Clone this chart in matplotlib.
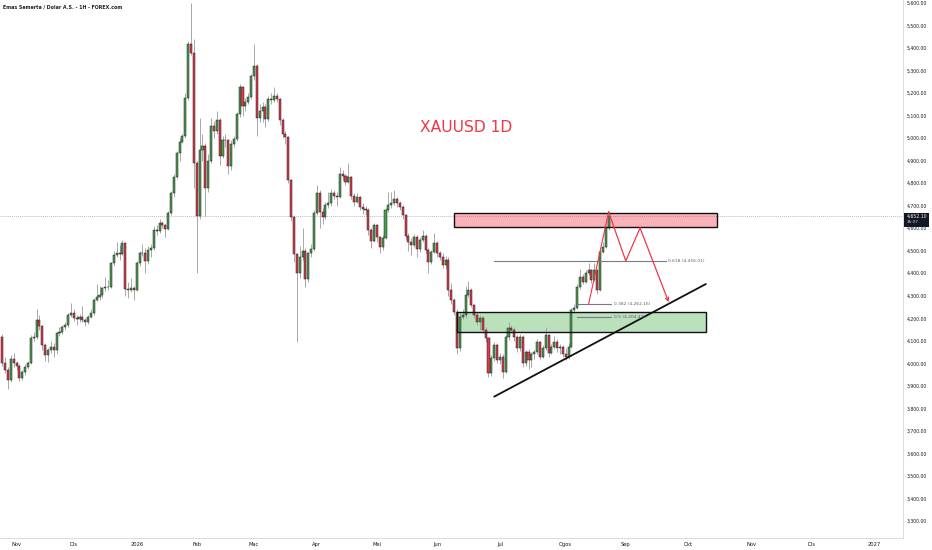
import numpy as np
import pandas as pd
import matplotlib
matplotlib.use("Agg")
import matplotlib.pyplot as plt
from matplotlib.patches import Rectangle

# ---------------- data ----------------
TITLE = "XAUUSD 1D"
SYMBOL_LABEL = "Emas Semerta / Dolar A.S. - 1H - FOREX.com"
LAST_DATE = "2026-08-24"
LAST_PRICE = 4652.10
COUNTDOWN = "36:07"
FIRST_OPEN = 4118

closes = [
    4000, 3970, 3926, 4018, 4000, 3990, 3935, 3960, 3985, 4000,
    4111, 4118, 4192, 4166, 4081, 4037, 4059, 4074, 4059, 4133,
    4137, 4163, 4170, 4215, 4225, 4200, 4198, 4205, 4192, 4185,
    4205, 4222, 4281, 4296, 4303, 4333, 4337, 4340, 4444, 4481,
    4488, 4485, 4533, 4329, 4326, 4333, 4326, 4444, 4488, 4490,
    4455, 4503,
    4511, 4592, 4588, 4622, 4615, 4595, 4666, 4758, 4829, 4935,
    4984, 5009, 5177, 5418, 5380, 4891, 4654, 4947, 4965, 4777, 4900,
    5054, 5030, 5081, 4921, 4992, 4990, 4876, 4974, 4995, 5106,
    5225, 5142, 5160, 5184, 5276, 5320, 5088, 5120, 5140, 5083, 5172,
    5170, 5187, 5175, 5081, 5018, 5006, 4814, 4651, 4485, 4403,
    4471, 4500, 4373, 4488, 4506, 4669, 4755, 4673, 4651, 4703,
    4713, 4758, 4745, 4740, 4841, 4832, 4805, 4826, 4743, 4718,
    4737, 4696, 4684, 4681, 4592, 4545, 4614, 4559, 4518, 4555,
    4681, 4703, 4713, 4728, 4710, 4695, 4659, 4565, 4540,
    4525, 4562, 4506, 4547, 4565, 4503, 4451, 4496, 4536,
    4488, 4474, 4437, 4460, 4326, 4281, 4229, 4066, 4207, 4215,
    4303, 4326, 4259, 4215, 4185, 4200, 4148, 4111, 3956, 4022,
    4081, 4015, 4030, 3963, 4115, 4155, 4148, 4118, 4066, 4118,
    4000, 4052, 4015, 4040, 4052, 4096, 4030, 4067, 4126, 4044,
    4074, 4096, 4067, 4074, 4040, 4030, 4074, 4237, 4244, 4340,
    4385, 4363, 4400, 4414, 4370, 4414, 4326, 4496, 4518, 4599,
    4652.10,
]
highs = [
    4130, 4030, 3985, 4035, 4045, 4012, 3995, 3970, 3995, 4010,
    4125, 4140, 4240, 4215, 4170, 4090, 4070, 4100, 4090, 4140,
    4160, 4172, 4185, 4225, 4268, 4240, 4215, 4220, 4255, 4200,
    4215, 4240, 4290, 4350, 4345, 4340, 4385, 4370, 4450, 4500,
    4540, 4525, 4548, 4540, 4360, 4380, 4345, 4455, 4500, 4530,
    4510, 4520,
    4530, 4610, 4612, 4640, 4632, 4620, 4675, 4765, 4840, 4945,
    5000, 5020, 5200, 5430, 5598, 5440, 4900, 5090, 5020, 4980, 4930,
    5090, 5075, 5120, 5090, 5010, 5020, 4995, 4990, 5010, 5115,
    5240, 5230, 5180, 5200, 5285, 5420, 5330, 5150, 5160, 5150, 5185,
    5200, 5225, 5200, 5180, 5090, 5030, 5010, 4820, 4660, 4490,
    4520, 4600, 4510, 4495, 4530, 4680, 4790, 4770, 4690, 4715,
    4760, 4775, 4770, 4760, 4870, 4860, 4840, 4890, 4830, 4755,
    4755, 4745, 4710, 4700, 4690, 4600, 4625, 4620, 4565, 4570,
    4690, 4760, 4760, 4770, 4740, 4720, 4705, 4665, 4580,
    4555, 4575, 4570, 4560, 4590, 4575, 4510, 4505, 4580,
    4545, 4500, 4490, 4475, 4470, 4355, 4290, 4240, 4225, 4240,
    4345, 4365, 4335, 4265, 4230, 4215, 4210, 4160, 4115, 4035,
    4095, 4090, 4045, 4040, 4125, 4185, 4170, 4160, 4125, 4130,
    4125, 4060, 4065, 4052, 4060, 4110, 4100, 4080, 4160, 4130,
    4085, 4120, 4110, 4085, 4080, 4070, 4090, 4245, 4262, 4350,
    4420, 4395, 4415, 4445, 4420, 4445, 4420, 4505, 4540, 4610,
    4676,
]
lows = [
    3990, 3955, 3885, 3915, 3985, 3970, 3920, 3925, 3950, 3975,
    3995, 4100, 4110, 4150, 4060, 4010, 4005, 4045, 4030, 4040,
    4120, 4130, 4150, 4160, 4205, 4190, 4170, 4185, 4185, 4165,
    4175, 4200, 4215, 4275, 4280, 4290, 4320, 4325, 4335, 4430,
    4470, 4460, 4480, 4300, 4290, 4315, 4280, 4320, 4430, 4475,
    4402, 4440,
    4474, 4505, 4570, 4580, 4600, 4560, 4590, 4660, 4740, 4820,
    4900, 4980, 5000, 5170, 5370, 4780, 4400, 4640, 4900, 4652, 4760,
    4890, 5000, 5020, 4880, 4910, 4960, 4840, 4860, 4960, 4985,
    5095, 5100, 5120, 5150, 5175, 5260, 5010, 5070, 5070, 5050, 5075,
    5150, 5160, 5160, 5060, 5000, 4975, 4800, 4630, 4450, 4096,
    4380, 4460, 4340, 4360, 4470, 4500, 4660, 4600, 4620, 4640,
    4690, 4700, 4730, 4700, 4735, 4815, 4790, 4800, 4730, 4700,
    4710, 4680, 4665, 4660, 4570, 4510, 4540, 4540, 4490, 4505,
    4550, 4670, 4690, 4705, 4695, 4680, 4640, 4550, 4500,
    4480, 4515, 4470, 4495, 4540, 4490, 4400, 4440, 4490,
    4470, 4460, 4425, 4420, 4300, 4265, 4215, 4040, 4055, 4195,
    4200, 4295, 4250, 4200, 4170, 4150, 4135, 4095, 3940, 3945,
    4010, 4000, 3995, 3935, 3955, 4105, 4135, 4100, 4050, 4055,
    3985, 3990, 3975, 3985, 4020, 4040, 4020, 4025, 4060, 4030,
    4040, 4065, 4050, 4040, 4030, 4015, 4020, 4070, 4225, 4240,
    4330, 4350, 4355, 4390, 4355, 4365, 4310, 4320, 4490, 4510,
    4590,
]

holidays = ["2025-12-25", "2026-01-01", "2026-04-03", "2026-12-25", "2027-01-01"]
month_starts = ["2025-11", "2025-12", "2026-01", "2026-02", "2026-03", "2026-04",
                "2026-05", "2026-06", "2026-07", "2026-08", "2026-09", "2026-10",
                "2026-11", "2026-12", "2027-01"]
month_labels = ["Nov", "Dis", "2026", "Feb", "Mac", "Apr", "Mei", "Jun", "Jul",
                "Ogos", "Sep", "Okt", "Nov", "Dis", "2027"]
price_ticks = list(range(3300, 5700, 100))

# drawings (date, price)
red_zone = ("2026-06-09", "2026-10-15", 4605, 4668)
green_zone = ("2026-06-10", "2026-10-09", 4140, 4228)
trend_line = [("2026-06-29", 3852), ("2026-10-09", 4352)]
fib_levels = [("0.618", 4456.01, "2026-06-29", "2026-09-21"),
              ("0.382", 4262.16, "2026-08-07", "2026-08-25"),
              ("0.5", 4204.41, "2026-08-07", "2026-08-25")]
fib_diag = [("2026-08-13", 4262), ("2026-08-24", 4672)]
zigzag = [("2026-08-24", 4672), ("2026-09-01", 4455), ("2026-09-08", 4601), ("2026-09-22", 4272)]

# ---------------- style ----------------
GREEN = "#4a9e4e"
RED = "#e0394b"
EDGE = "#1e1e1e"
WICK = "#9a9a9a"
TV_RED = "#f23645"
TEXT = "#131722"
AXIS = "#d9dbe1"

plt.rcParams["font.family"] = ["DejaVu Sans"]

calendar = pd.bdate_range("2025-09-01", "2027-02-26")
calendar = calendar[~calendar.isin(pd.to_datetime(holidays))]
pos = {d: i for i, d in enumerate(calendar)}


def xi(date):
    return pos[pd.Timestamp(date)]


c = np.array(closes, dtype=float)
o = np.concatenate([[FIRST_OPEN], c[:-1]])
h = np.maximum(np.array(highs, dtype=float), np.maximum(o, c))
l = np.minimum(np.array(lows, dtype=float), np.minimum(o, c))
end = xi(LAST_DATE)
xs = np.arange(end - len(c) + 1, end + 1)

fig = plt.figure(figsize=(9.32, 5.5), dpi=100)
fig.patch.set_facecolor("white")
ax = fig.add_axes([0, 12 / 550, 903 / 932, 538 / 550])
ax.set_facecolor("white")

i_jun = xi("2026-06-01")
ppb = 2.86
ax.set_xlim(i_jun - 437 / ppb, i_jun + 466 / ppb)
ax.set_ylim(3224.3, 5613.3)

# current price dotted line
ax.axhline(LAST_PRICE, color="#9598a1", lw=0.5, ls=(0, (1.2, 1.6)), zorder=1)

# zones
for (d0, d1, p0, p1), col in ((red_zone, TV_RED), (green_zone, "#4caf50")):
    x0, x1 = xi(d0), xi(d1)
    ax.add_patch(Rectangle((x0, p0), x1 - x0, p1 - p0, facecolor=col, alpha=0.38,
                           edgecolor="none", zorder=1.5))
    ax.add_patch(Rectangle((x0, p0), x1 - x0, p1 - p0, facecolor="none",
                           edgecolor="#111111", lw=1.0, zorder=5))

# candles
up = c >= o
ax.vlines(xs, l, h, color=WICK, lw=0.6, zorder=3)
ax.bar(xs[up], (c - o)[up], bottom=o[up], width=0.72, color=GREEN,
       edgecolor=EDGE, lw=0.35, zorder=4)
ax.bar(xs[~up], (c - o)[~up], bottom=o[~up], width=0.72, color=RED,
       edgecolor=EDGE, lw=0.35, zorder=4)

# trend line
ax.plot([xi(d) for d, _ in trend_line], [p for _, p in trend_line],
        color="#111111", lw=1.3, zorder=6, solid_capstyle="round")

# fib levels
for name, price, d0, d1 in fib_levels:
    x0, x1 = xi(d0), xi(d1)
    ax.plot([x0, x1], [price, price], color="#787b86", lw=0.8, zorder=6)
    ax.text(x1 + 0.9, price, f"{name} ({price:,.2f})", fontsize=3.2,
            color="#5d606b", ha="left", va="center", zorder=7)

# fib diagonal
ax.plot([xi(d) for d, _ in fib_diag], [p for _, p in fib_diag],
        color=TV_RED, lw=0.8, zorder=6)

# projection zigzag
zx = [xi(d) for d, _ in zigzag]
zy = [p for _, p in zigzag]
ax.plot(zx[:-1], zy[:-1], color=TV_RED, lw=0.9, zorder=6)
ax.annotate("", xy=(zx[-1], zy[-1]), xytext=(zx[-2], zy[-2]),
            arrowprops=dict(arrowstyle="->", color=TV_RED, lw=0.9,
                            mutation_scale=6, shrinkA=0, shrinkB=0), zorder=6)

# title
ax.text(466 / 903, 1 - 127 / 538, TITLE, transform=ax.transAxes, color=TV_RED,
        fontsize=11.2, ha="center", va="center")

# axes styling
for s in ("top", "left"):
    ax.spines[s].set_visible(False)
for s in ("right", "bottom"):
    ax.spines[s].set_color(AXIS)
    ax.spines[s].set_linewidth(0.7)

ax.yaxis.tick_right()
ax.set_yticks(price_ticks)
ax.set_yticklabels([f"{p:,.2f}" for p in price_ticks])
ax.tick_params(axis="y", length=0, pad=2.9, labelsize=3.3, labelcolor=TEXT)

tick_pos = [calendar.searchsorted(pd.Timestamp(m + "-01")) for m in month_starts]
ax.set_xticks(tick_pos)
ax.set_xticklabels(month_labels)
ax.tick_params(axis="x", length=0, pad=2.6, labelsize=3.7, labelcolor=TEXT)

# symbol label
fig.text(3 / 932, 1 - 7 / 550, SYMBOL_LABEL, fontsize=3.4, color="#222222",
         ha="left", va="center", fontweight="semibold")

# last price box on price axis
y_disp = ax.transData.transform((0, LAST_PRICE))[1]
fig.patches.append(Rectangle((904 / 932, (y_disp - 10.2) / 550), 25 / 932, 13.4 / 550,
                             transform=fig.transFigure, facecolor=TEXT,
                             edgecolor="none", zorder=10))
fig.text(907 / 932, (y_disp - 0.2) / 550, f"{LAST_PRICE:,.2f}", fontsize=3.3,
         color="white", ha="left", va="center", zorder=11)
fig.text(907 / 932, (y_disp - 5.6) / 550, COUNTDOWN, fontsize=3.0,
         color="#d1d4dc", ha="left", va="center", zorder=11)

fig.savefig("out.png", dpi=100, facecolor="white")
